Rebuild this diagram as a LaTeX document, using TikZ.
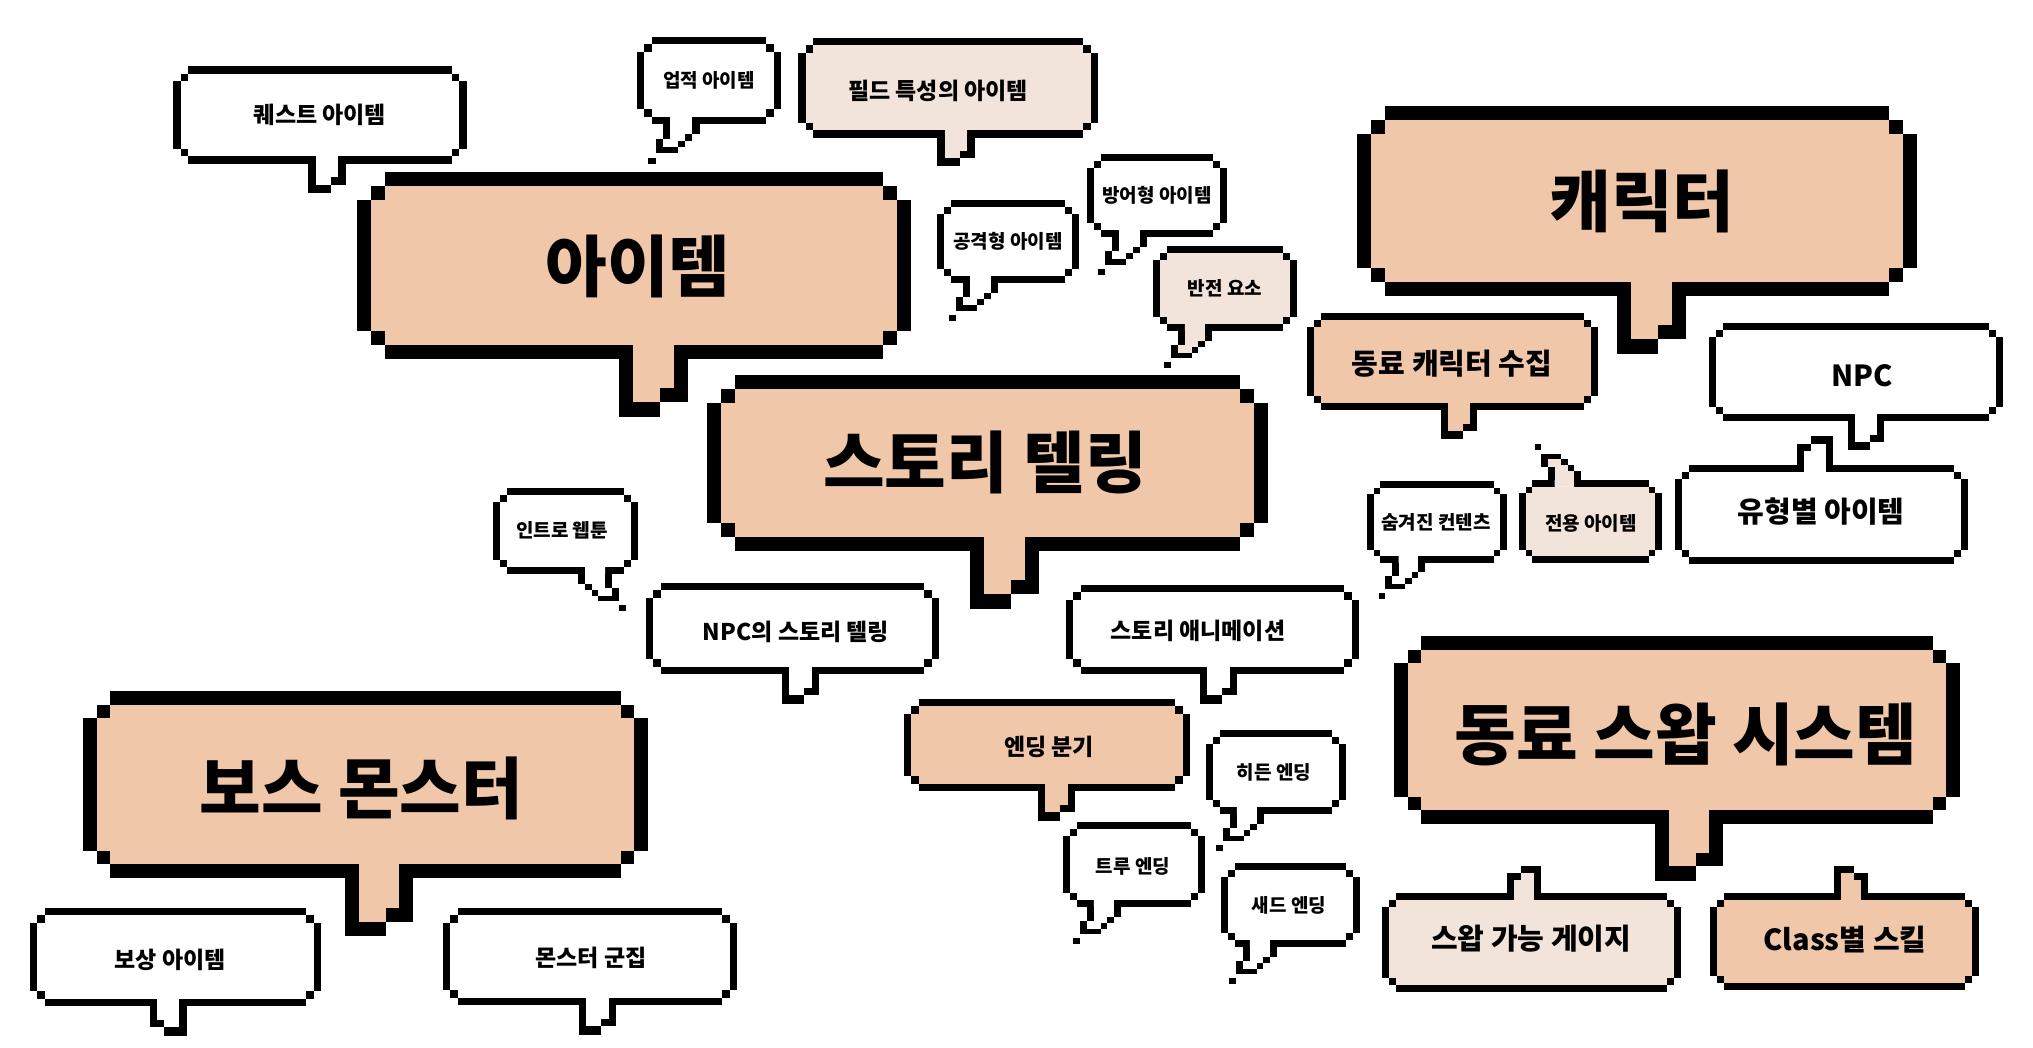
\documentclass[tikz,border=0pt]{standalone}
\usepackage{fontspec}
\setmainfont{Noto Sans CJK KR}
\definecolor{peach}{RGB}{240,199,169}
\definecolor{blush}{RGB}{243,228,219}

% pixel frame: x0 y0 x1 y1 p fill (sides + corners)
\newcommand{\pxframe}[6]{%
  \fill[#6] ({#1+#5},{#2+#5}) rectangle ({#3-#5},{#4-#5});
  \fill ({#1},{#2+2*#5}) rectangle ({#1+#5},{#4-2*#5});
  \fill ({#3-#5},{#2+2*#5}) rectangle ({#3},{#4-2*#5});
  \fill ({#1+#5},{#2+#5}) rectangle ({#1+2*#5},{#2+2*#5});
  \fill ({#3-2*#5},{#2+#5}) rectangle ({#3-#5},{#2+2*#5});
  \fill ({#1+#5},{#4-2*#5}) rectangle ({#1+2*#5},{#4-#5});
  \fill ({#3-2*#5},{#4-2*#5}) rectangle ({#3-#5},{#4-#5});}
% bubble, gap for tail at a in bottom bar
\newcommand{\pxdown}[7]{%
  \pxframe{#1}{#2}{#3}{#4}{#5}{#6}
  \fill ({#1+2*#5},{#2}) rectangle ({#3-2*#5},{#2+#5});
  \fill ({#1+2*#5},{#4-#5}) rectangle ({#7+#5},{#4});
  \fill ({#7+4*#5},{#4-#5}) rectangle ({#3-2*#5},{#4});}
% bubble, gap for tail at a in top bar
\newcommand{\pxup}[7]{%
  \pxframe{#1}{#2}{#3}{#4}{#5}{#6}
  \fill ({#1+2*#5},{#2}) rectangle ({#7+#5},{#2+#5});
  \fill ({#7+4*#5},{#2}) rectangle ({#3-2*#5},{#2+#5});
  \fill ({#1+2*#5},{#4-#5}) rectangle ({#3-2*#5},{#4});}
% tails in pixel units
\newcommand{\tailstd}[2]{%
  \fill[#1] (1,0) rectangle (4,{#2-1.1});
  \fill (0,1) rectangle (1,#2);
  \fill (0,{#2-1.1}) rectangle (3,#2);
  \fill (3,{#2-2.1}) rectangle (4,{#2-1.1});
  \fill (4,0) rectangle (5,{#2-1.1});}
\newcommand{\taildiag}[1]{%
  \fill[#1] (1,0) -- (4,0) -- (4,2.4) -- (3,2.4) -- (3,3.3) -- (2,3.3)
    -- (2,4.2) -- (0,4.2) -- (0,3) -- (1,3) -- cycle;
  \fill (0,1) rectangle (1,3);
  \fill (-1,3) rectangle (0,5);
  \fill (0,4.2) rectangle (2,5);
  \fill (2,3.3) rectangle (3,4.2);
  \fill (3,2.4) rectangle (4,3.3);
  \fill (4,0) rectangle (5,2.4);
  \fill (-2,5.6) rectangle (-1,6.5);}
% a c p fill depth
\newcommand{\tdown}[5]{\begin{scope}[shift={(#1,#2)},x=#3pt,y=-#3pt]\tailstd{#4}{#5}\end{scope}}
\newcommand{\tdownm}[5]{\begin{scope}[shift={({#1+5*#3},#2)},x=-#3pt,y=-#3pt]\tailstd{#4}{#5}\end{scope}}
\newcommand{\tup}[5]{\begin{scope}[shift={(#1,#2)},x=#3pt,y=#3pt]\tailstd{#4}{#5}\end{scope}}
\newcommand{\tupm}[5]{\begin{scope}[shift={({#1+5*#3},#2)},x=-#3pt,y=#3pt]\tailstd{#4}{#5}\end{scope}}
% a c p fill
\newcommand{\tdiag}[4]{\begin{scope}[shift={(#1,#2)},x=#3pt,y=-#3pt]\taildiag{#4}\end{scope}}
\newcommand{\tdiagm}[4]{\begin{scope}[shift={({#1+5*#3},#2)},x=-#3pt,y=-#3pt]\taildiag{#4}\end{scope}}
\newcommand{\tdiagup}[4]{\begin{scope}[shift={(#1,#2)},x=#3pt,y=#3pt]\taildiag{#4}\end{scope}}

\begin{document}
\begin{tikzpicture}[x=1pt,y=-1pt,
    lbl/.style={inner sep=0pt},
    huge/.style={lbl, font={\fontsize{67}{67}\selectfont\bfseries}},
    big/.style={lbl, font={\fontsize{29}{29}\selectfont\bfseries}},
    mid/.style={lbl, font={\fontsize{23}{23}\selectfont\bfseries}},
    small/.style={lbl, font={\fontsize{19}{19}\selectfont\bfseries}},
  ]
  \useasboundingbox[fill=white] (0,0) rectangle (2033,1048);

  % item cluster
  \pxdown{173}{66}{467}{164}{7.6}{white}{308} \tdown{308}{156.4}{7.6}{white}{4.8}
  \node[mid] (quest) at (320,115) {퀘스트 아이템};
  \pxdown{637}{37}{781}{124}{7.3}{white}{663} \tdiag{663}{116.7}{7.3}{white}
  \node[small] (achieve) at (709,80.5) {업적 아이템};
  \pxdown{798}{38}{1098}{138}{7.5}{blush}{937} \tdown{937}{130.5}{7.5}{blush}{4.8}
  \node[mid] (field) at (938,91) {필드 특성의 아이템};
  \pxdown{357}{172}{911}{359}{13.8}{peach}{619} \tdown{619}{345.2}{13.8}{peach}{5.2}
  \node[huge] (item) at (638,266) {아이템};
  \pxdown{937}{200}{1079}{283}{7}{white}{963} \tdiag{963}{276}{7}{white}
  \node[small] (attack) at (1008,241.5) {공격형 아이템};
  \pxdown{1087}{154}{1227}{237}{7}{white}{1112} \tdiag{1112}{230}{7}{white}
  \node[small] (defend) at (1157,195.5) {방어형 아이템};
  \pxdown{1153}{246}{1297}{331}{6.8}{blush}{1178} \tdiag{1178}{324.2}{6.8}{blush}
  \node[small] (twist) at (1225,288.5) {반전 요소};

  % character cluster
  \pxdown{1357}{106}{1917}{296}{13.8}{peach}{1617} \tdown{1617}{282.2}{13.8}{peach}{5.2}
  \node[huge] (chara) at (1642,201) {캐릭터};
  \pxdown{1307}{313}{1598}{410}{7.2}{peach}{1441} \tdown{1441}{402.8}{7.2}{peach}{5}
  \node[big] (mates) at (1452,364) {동료 캐릭터 수집};
  \pxdown{1709}{323}{2003}{421}{7.2}{white}{1848} \tdown{1848}{413.8}{7.2}{white}{5}
  \node[big] (npc) at (1862,376) {NPC};
  \pxup{1675}{465}{1968}{564}{7.2}{white}{1797} \tupm{1797}{472.2}{7.2}{white}{5}
  \node[big] (bytype) at (1821,512) {유형별 아이템};
  \pxdown{1367}{481}{1507}{563}{6.6}{white}{1392} \tdiag{1392}{556.4}{6.6}{white}
  \node[small] (secret) at (1436,522) {숨겨진 컨텐츠};
  \pxup{1519}{480}{1662}{563}{6.6}{blush}{1548} \tdiagup{1548}{486.6}{6.6}{blush}
  \node[small] (own) at (1591,523) {전용 아이템};

  % story cluster
  \pxdown{707}{375}{1268}{551}{13.8}{peach}{970} \tdown{970}{537.2}{13.8}{peach}{5.2}
  \node[huge] (story) at (985,462) {스토리 텔링};
  \pxdown{493}{488}{638}{574}{6.8}{white}{578} \tdiagm{578}{567.2}{6.8}{white}
  \node[small] (intro) at (562,530.5) {인트로 웹툰};
  \pxdown{646}{583}{939}{674}{7.4}{white}{782} \tdown{782}{666.6}{7.4}{white}{5}
  \node[mid] (npcstory) at (796,632) {NPC의 스토리 텔링};
  \pxdown{1066}{585}{1359}{674}{7.4}{white}{1200} \tdown{1200}{666.6}{7.4}{white}{5}
  \node[mid] (anim) at (1198,631) {스토리 애니메이션};
  \pxdown{904}{699}{1190}{791}{7.4}{peach}{1038} \tdown{1038}{783.6}{7.4}{peach}{5}
  \node[mid] (ending) at (1049,747) {엔딩 분기};
  \pxdown{1206}{730}{1346}{814}{6.8}{white}{1230} \tdiag{1230}{807.2}{6.8}{white}
  \node[small] (hidend) at (1274,772) {히든 엔딩};
  \pxdown{1221}{863}{1360}{947}{6.8}{white}{1243} \tdiag{1243}{940.2}{6.8}{white}
  \node[small] (sadend) at (1289,905) {새드 엔딩};
  \pxdown{1063}{822}{1205}{907}{6.8}{white}{1087} \tdiag{1087}{900.2}{6.8}{white}
  \node[small] (trueend) at (1133,866) {트루 엔딩};

  % boss cluster
  \pxdown{83}{691}{648}{878}{13.6}{peach}{345} \tdown{345}{864.4}{13.6}{peach}{5.3}
  \node[huge] (boss) at (361.5,788) {보스 몬스터};
  \pxdown{30}{908}{321}{1006}{7.4}{white}{149.5} \tdownm{149.5}{998.6}{7.4}{white}{5}
  \node[mid] (reward) at (170,960) {보상 아이템};
  \pxdown{443}{908}{737}{1005}{7.4}{white}{579} \tdown{579}{997.6}{7.4}{white}{5}
  \node[mid] (swarm) at (591,958) {몬스터 군집};

  % swap cluster
  \pxdown{1394}{636}{1960}{824}{13.6}{peach}{1655} \tdown{1655}{810.4}{13.6}{peach}{5.2}
  \node[huge] (swap) at (1686,734) {동료 스왑 시스템};
  \pxup{1382}{893}{1681}{992}{6.8}{blush}{1507} \tupm{1507}{899.8}{6.8}{blush}{5}
  \node[big] (gauge) at (1531,939) {스왑 가능 게이지};
  \pxup{1710}{893}{1979}{990}{6.8}{peach}{1834} \tup{1834}{899.8}{6.8}{peach}{5}
  \node[big] (skill) at (1845,940) {Class별 스킬};
\end{tikzpicture}
\end{document}
